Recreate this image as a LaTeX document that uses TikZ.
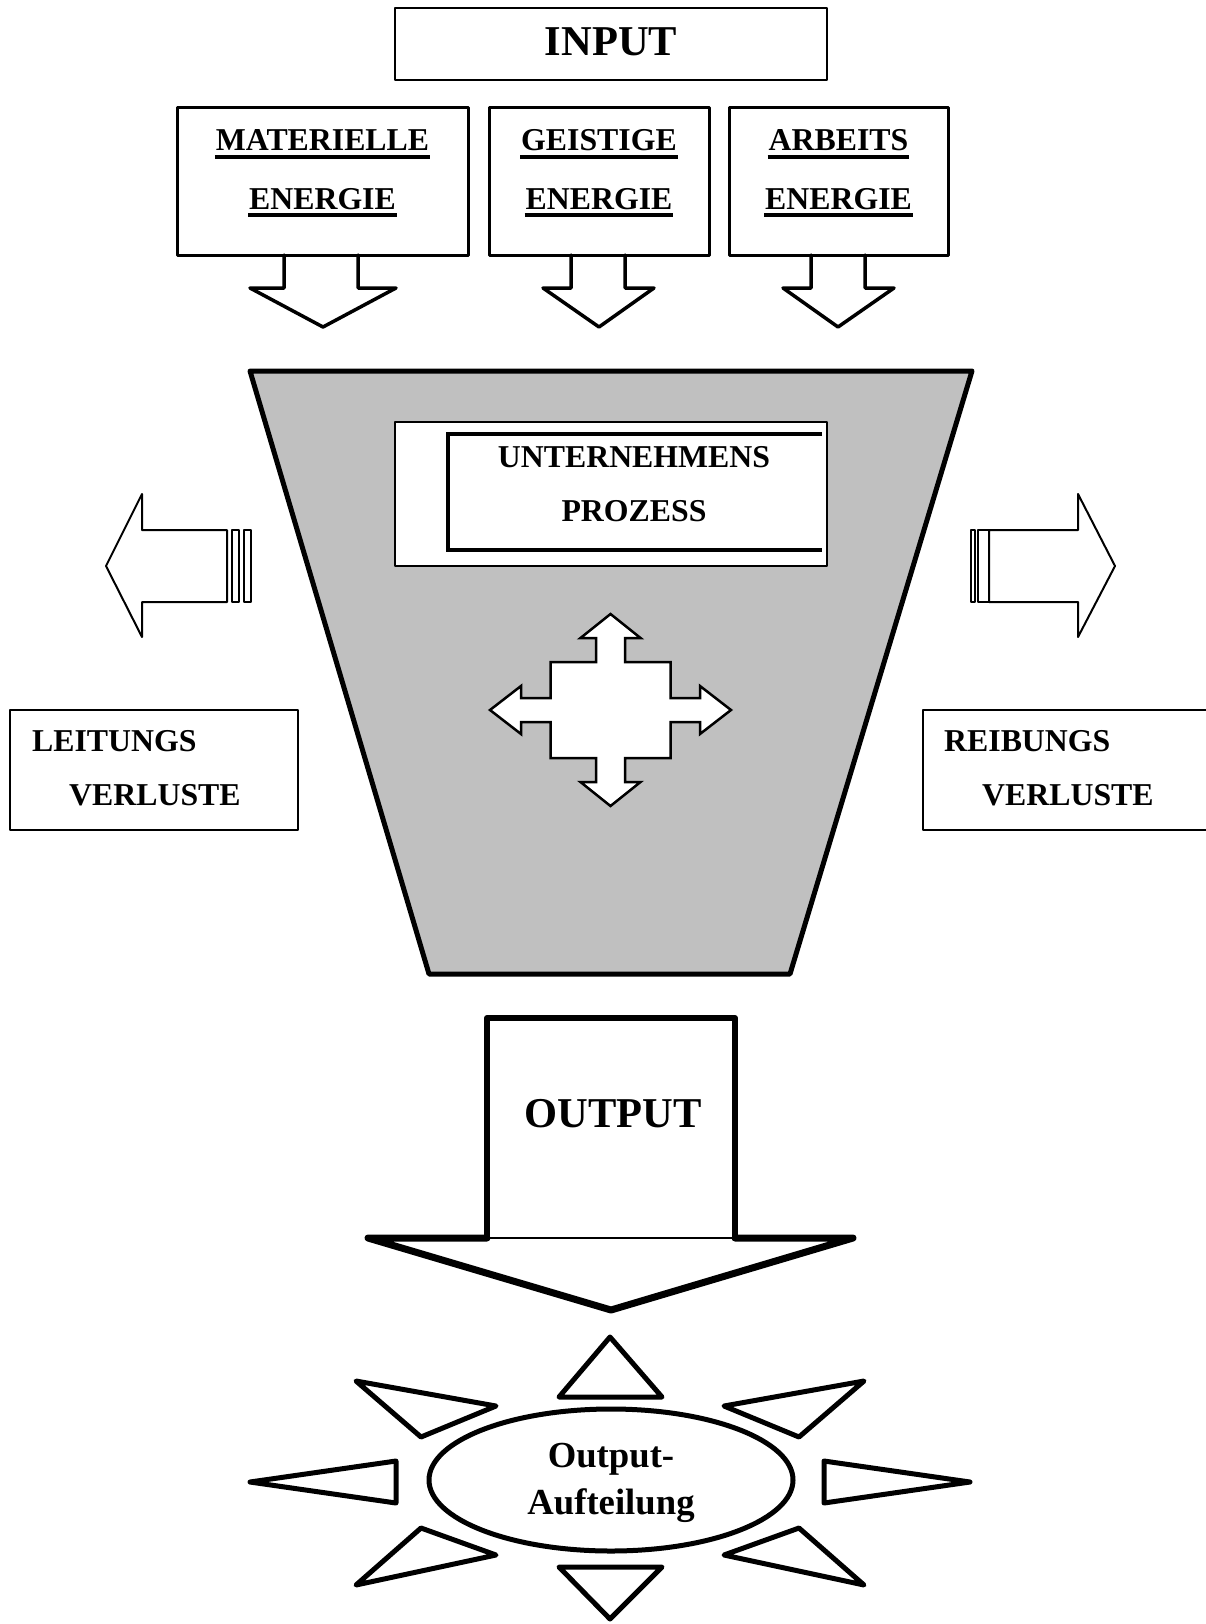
\documentclass[tikz,border=0pt]{standalone}
\usepackage{fontspec}
\setmainfont{Liberation Serif}
\usetikzlibrary{calc,shapes.geometric}
\definecolor{trapgray}{RGB}{192,192,192}
\newcommand{\myul}[1]{\setbox0\hbox{#1}\rlap{\hspace*{-1pt}\rule[-8pt]{\dimexpr\wd0+2pt\relax}{4pt}}\box0}
\newcommand{\fBox}{\fontsize{31.8}{38}\selectfont\bfseries}
\newcommand{\fBig}{\fontsize{42.5}{50}\selectfont\bfseries}
\newcommand{\fSun}{\fontsize{36.7}{44}\selectfont\bfseries}
\tikzset{
  txt/.style={anchor=base, inner sep=0pt},
  topbox/.style={draw, line width=3pt, inner sep=0pt},
  thinbox/.style={draw, line width=1.5pt, inner sep=0pt},
  blockarrow/.style={draw, line width=3.5pt, fill=white},
  sidearrow/.style={draw, line width=2pt, fill=white},
  ray/.style={draw, line width=5pt, fill=white},
}
\begin{document}
\begin{tikzpicture}[x=1pt,y=-1pt,line join=round,line cap=round]
\useasboundingbox (0,0) rectangle (1206,1624);

% INPUT
\node[draw, line width=2pt, inner sep=0pt, minimum width=432pt, minimum height=72pt] (input) at (611,44) {};
\node[txt] (inputt) at (611,56) {\fBig INPUT};

% arrows under top boxes (drawn first so the box borders stay whole)
\draw[blockarrow] (284,255) -- (284,288) -- (250,288) -- (323,327) -- (396,288) -- (358,288) -- (358,255);
\draw[blockarrow] (571,255) -- (571,288) -- (543,288) -- (599,327) -- (654,288) -- (625,288) -- (625,255);
\draw[blockarrow] (811,255) -- (811,288) -- (783,288) -- (838,327) -- (894,288) -- (865,288) -- (865,255);

% top boxes
\node[topbox, minimum width=291pt, minimum height=147pt] (mat) at (322.5,181.5) {};
\node[topbox, minimum width=220pt, minimum height=147pt] (geis) at (599,181.5) {};
\node[topbox, minimum width=219pt, minimum height=147pt] (arb) at (838.5,181.5) {};
\node[txt] (mat1) at (322.5,151) {\fBox\myul{MATERIELLE}};
\node[txt] (mat2) at (322.5,209) {\fBox\myul{ENERGIE}};
\node[txt] (geis1) at (599,151) {\fBox\myul{GEISTIGE}};
\node[txt] (geis2) at (599,209) {\fBox\myul{ENERGIE}};
\node[txt] (arb1) at (838.5,151) {\fBox\myul{ARBEITS}};
\node[txt] (arb2) at (838.5,209) {\fBox\myul{ENERGIE}};

% trapezoid
\draw[line width=5pt, fill=trapgray] (250,371) -- (972,371) -- (790,974) -- (429,974) -- cycle;
\node[thinbox, fill=white, minimum width=432pt, minimum height=144pt] (uproc) at (611,494) {};
\draw[line width=4pt, line cap=butt, line join=miter] (822,434) -- (448,434) -- (448,550) -- (822,550);
\node[txt] (up1) at (634,467) {\fBox UNTERNEHMENS};
\node[txt] (up2) at (634,521) {\fBox PROZESS};

% side arrows
\draw[sidearrow] (227,530) -- (142,530) -- (142,494) -- (106,566) -- (142,637) -- (142,602) -- (227,602) -- cycle;
\draw[sidearrow] (232,530) rectangle (239,602);
\draw[sidearrow] (244,530) rectangle (251,602);
\draw[sidearrow] (989,530) -- (1078,530) -- (1078,494) -- (1115,566) -- (1078,637) -- (1078,602) -- (989,602) -- cycle;
\draw[sidearrow] (971,530) rectangle (975,602);
\draw[sidearrow] (978,530) rectangle (989,602);

% four-way arrow
\begin{scope}[shift={(610.5,710)}]
\draw[line width=2.5pt, fill=white, line join=miter]
 (0,-96) -- (30,-72) -- (14.5,-72) -- (14.5,-48) -- (60,-48) -- (60,-12) -- (89.5,-12) -- (89.5,-24) -- (120.5,0)
 -- (89.5,24) -- (89.5,12) -- (60,12) -- (60,48) -- (14.5,48) -- (14.5,72) -- (30,72) -- (0,96)
 -- (-30,72) -- (-14.5,72) -- (-14.5,48) -- (-60,48) -- (-60,12) -- (-89.5,12) -- (-89.5,24) -- (-120.5,0)
 -- (-89.5,-24) -- (-89.5,-12) -- (-60,-12) -- (-60,-48) -- (-14.5,-48) -- (-14.5,-72) -- (-30,-72) -- cycle;
\end{scope}

% loss boxes
\node[thinbox, minimum width=288pt, minimum height=120pt] (leit) at (154,770) {};
\node[txt, anchor=base west] (leit1) at (32,751) {\fBox LEITUNGS};
\node[txt, anchor=base west] (leit2) at (69,805) {\fBox VERLUSTE};
\coordinate (reibTL) at (923,710);
\draw[line width=1.5pt] (1206,710) -- (reibTL) -- (923,830) -- (1206,830);
\node[txt, anchor=base west] (reib1) at (944,751) {\fBox REIBUNGS};
\node[txt, anchor=base west] (reib2) at (982,805) {\fBox VERLUSTE};

% OUTPUT arrow
\draw[line width=1.5pt] (487,1238) -- (735,1238);
\draw[line width=6pt] (487,1238) -- (487,1018) -- (735,1018) -- (735,1238);
\draw[line width=7pt] (487,1238) -- (368,1238) -- (611,1310) -- (853,1238) -- (735,1238);
\node[txt] (outt) at (613,1127) {\fBig OUTPUT};

% sun
\draw[ray] (610,1337) -- (559,1397) -- (662,1397) -- cycle;
\draw[ray] (559,1567) -- (662,1567) -- (610,1619) -- cycle;
\draw[ray] (356,1381) -- (496,1406) -- (421,1437) -- cycle;
\draw[ray] (864,1381) -- (724,1406) -- (799,1437) -- cycle;
\draw[ray] (250,1482) -- (396,1461) -- (396,1503) -- cycle;
\draw[ray] (970,1482) -- (824,1461) -- (824,1503) -- cycle;
\draw[ray] (421,1528) -- (496,1555) -- (356,1585) -- cycle;
\draw[ray] (799,1528) -- (724,1555) -- (864,1585) -- cycle;
\node[draw, line width=5pt, ellipse, minimum width=364pt, minimum height=142pt, inner sep=0pt] (oa) at (611,1480) {};
\node[txt] (oa1) at (611,1467) {\fSun Output-};
\node[txt] (oa2) at (611,1514) {\fSun Aufteilung};
\end{tikzpicture}
\end{document}
